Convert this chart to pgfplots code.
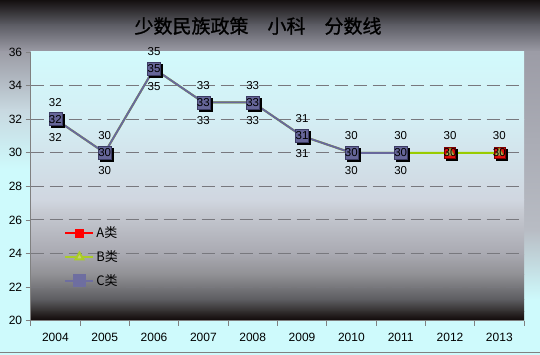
\documentclass[border=0pt]{standalone}
\usepackage{pgfplots}
\pgfplotsset{compat=1.18}
\usetikzlibrary{backgrounds}
\usepackage{fontspec}
\setmainfont{Liberation Sans}
\newfontfamily\cjk{Noto Sans CJK SC}
\newfontfamily\cjktitle[FakeBold=1.2]{Noto Sans CJK SC}
\definecolor{cyanbg}{RGB}{206,250,252}
\definecolor{axisgray}{RGB}{128,128,128}
\definecolor{gridgray}{RGB}{120,120,126}
\definecolor{cline}{RGB}{104,104,156}
\definecolor{cfill}{RGB}{102,102,153}
\definecolor{bline}{RGB}{153,204,0}
\definecolor{p1}{RGB}{210,250,252}
\definecolor{p2}{RGB}{212,238,244}
\definecolor{p3}{RGB}{208,214,224}
\definecolor{p4}{RGB}{200,204,212}
\definecolor{p5}{RGB}{168,168,176}
\definecolor{p6}{RGB}{144,144,148}
\definecolor{p7}{RGB}{92,92,96}
\definecolor{p8}{RGB}{48,44,44}
\definecolor{p9}{RGB}{16,8,8}
\definecolor{t0}{RGB}{20,16,16}
\definecolor{t1}{RGB}{92,92,100}
\definecolor{t2}{RGB}{156,156,166}
\definecolor{t3}{RGB}{200,216,224}
\definecolor{r1}{RGB}{184,188,196}
\begin{document}
\begin{tikzpicture}[x=1pt,y=1pt]
\begin{axis}[
  at={(0,0)}, anchor=south west,
  scale only axis, width=493.3pt, height=268.7pt,
  xmin=-0.5, xmax=9.5, ymin=20, ymax=36,
  axis x line*=bottom, axis y line*=left,
  axis line style={color=axisgray, line width=1pt, -},
  tick align=outside,
  major tick length=5pt, minor tick length=5pt,
  ytick={22,24,...,34},
  extra y ticks={20,36},
  extra y tick style={grid=none},
  ymajorgrids,
  grid style={color=gridgray, dash pattern=on 13pt off 6pt, line width=1.1pt},
  y tick style={color=axisgray, line width=0.8pt},
  xtick={0,...,9},
  xticklabels={2004,2005,2006,2007,2008,2009,2010,2011,2012,2013},
  major x tick style={draw=none},
  minor xtick={-0.5,0.5,...,9.5},
  minor x tick style={color=axisgray, line width=0.8pt},
  ticklabel style={font=\fontsize{12}{14}\selectfont, text=black},
  xticklabel style={yshift=-4pt},
  /pgf/number format/assume math mode=true,
  clip=false,
  legend style={at={(0.068,0.357)}, anchor=north west, draw=none, fill=none,
    font=\cjk\fontsize{13}{14}\selectfont, row sep=7.5pt, inner sep=0pt},
  legend cell align=left,
  legend image code/.code={\draw[mark repeat=2,mark phase=2,#1] plot coordinates {(0pt,0pt) (14pt,0pt) (28pt,0pt)};},
]
% lines
\addplot[forget plot, red, line width=1pt, mark=none] coordinates {(0,32)(1,30)(2,35)(3,33)(4,33)(5,31)(6,30)(7,30)(8,30)(9,30)};
\addplot[forget plot, bline, line width=2pt, mark=none] coordinates {(0,32)(1,30)(2,35)(3,33)(4,33)(5,31)(6,30)(7,30)(8,30)(9,30)};
\addplot[forget plot, cline, line width=2pt, mark=none] coordinates {(0,32)(1,30)(2,35)(3,33)(4,33)(5,31)(6,30)(7,30)};
% marker shadows
\addplot[forget plot, only marks, mark=square*, mark size=6.5pt, mark options={xshift=2pt, yshift=-2pt, fill=black, draw=black}] coordinates {(0,32)(1,30)(2,35)(3,33)(4,33)(5,31)(6,30)(7,30)};
\addplot[forget plot, only marks, mark=square*, mark size=5.5pt, mark options={xshift=2pt, yshift=-2pt, fill=black, draw=black}] coordinates {(8,30)(9,30)};
% markers
\addplot[forget plot, only marks, mark=square*, mark size=5.5pt, mark options={fill={rgb,255:red,224;green,16;blue,16}, draw={rgb,255:red,128;green,0;blue,0}}] coordinates {(0,32)(1,30)(2,35)(3,33)(4,33)(5,31)(6,30)(7,30)(8,30)(9,30)};
\addplot[forget plot, only marks, mark=triangle*, mark size=5pt, mark options={fill={rgb,255:red,176;green,168;blue,96}, draw={rgb,255:red,128;green,144;blue,0}}] coordinates {(0,32)(1,30)(2,35)(3,33)(4,33)(5,31)(6,30)(7,30)(8,30)(9,30)};
\addplot[forget plot, only marks, mark=square*, mark size=6.5pt, mark options={fill=cfill, draw={rgb,255:red,60;green,60;blue,100}}] coordinates {(0,32)(1,30)(2,35)(3,33)(4,33)(5,31)(6,30)(7,30)};
% data labels
\addplot[forget plot, draw=none, mark=none, nodes near coords, nodes near coords align={center},
  every node near coord/.append style={anchor=center, yshift=17pt, font=\fontsize{11.5}{12}\selectfont, text=black}]
  coordinates {(0,32)(1,30)(2,35)(3,33)(4,33)(5,31)(6,30)(7,30)(8,30)(9,30)};
\addplot[forget plot, draw=none, mark=none, nodes near coords, nodes near coords align={center},
  every node near coord/.append style={anchor=center, yshift=-18pt, font=\fontsize{11.5}{12}\selectfont, text=black}]
  coordinates {(0,32)(1,30)(2,35)(3,33)(4,33)(5,31)(6,30)(7,30)};
\addplot[forget plot, draw=none, mark=none, nodes near coords, nodes near coords align={center},
  every node near coord/.append style={anchor=center, font=\fontsize{11.5}{12}\selectfont, text=black}]
  coordinates {(0,32)(1,30)(2,35)(3,33)(4,33)(5,31)(6,30)(7,30)(8,30)(9,30)};
% legend
\addlegendimage{red, line width=2pt, mark=square*, mark size=3.5pt, mark options={fill=red, draw=red}}
\addlegendentry{A类}
\addlegendimage{color={rgb,255:red,170;green,204;blue,40}, line width=2pt, mark=triangle*, mark size=4.5pt, mark options={fill={rgb,255:red,200;green,210;blue,120}, draw={rgb,255:red,170;green,204;blue,40}}}
\addlegendentry{B类}
\addlegendimage{color={rgb,255:red,110;green,110;blue,160}, line width=2pt, mark=square*, mark size=5.5pt, mark options={fill={rgb,255:red,110;green,110;blue,160}, draw={rgb,255:red,110;green,110;blue,160}}}
\addlegendentry{C类}
\coordinate (sw) at (rel axis cs:0,0);
\end{axis}
\begin{scope}[shift={(sw)}]
\begin{scope}[shift={(-30.7,-34.3)}]
\path[use as bounding box] (0,0) rectangle (540,355);
\begin{pgfonlayer}{background}
% outer background
\fill[cyanbg] (0,0) rectangle (540,355);
\shade[top color=t0, bottom color=t1] (0,330) rectangle (540,355);
\shade[top color=t1, bottom color=t2] (0,303) rectangle (540,330.5);
\shade[top color=t2, bottom color=t3] (0,245) rectangle (31,303.5);
\shade[top color=t3, bottom color=cyanbg] (0,185) rectangle (31,245.5);
\shade[top color=t2, bottom color=r1] (523,125) rectangle (540,303.5);
\shade[top color=r1, bottom color=cyanbg] (523,55) rectangle (540,125.5);
\draw[axisgray, line width=1.5pt] (0,2.5) -- (540,2.5);
% plot area background
\shade[top color=p1, bottom color=p2] (30.7,235) rectangle (524,303);
\shade[top color=p2, bottom color=p3] (30.7,155) rectangle (524,235.5);
\shade[top color=p3, bottom color=p4] (30.7,145) rectangle (524,155.5);
\shade[top color=p4, bottom color=p5] (30.7,100) rectangle (524,145.5);
\shade[top color=p5, bottom color=p6] (30.7,80) rectangle (524,100.5);
\shade[top color=p6, bottom color=p7] (30.7,55) rectangle (524,80.5);
\shade[top color=p7, bottom color=p8] (30.7,43) rectangle (524,55.5);
\shade[top color=p8, bottom color=p9] (30.7,34.3) rectangle (524,43.5);
\end{pgfonlayer}
% title
\node[font=\cjktitle\fontsize{19}{19}\selectfont, text=black] at (258,329) {少数民族政策　小科　分数线};
\end{scope}
\end{scope}
\end{tikzpicture}
\end{document}
